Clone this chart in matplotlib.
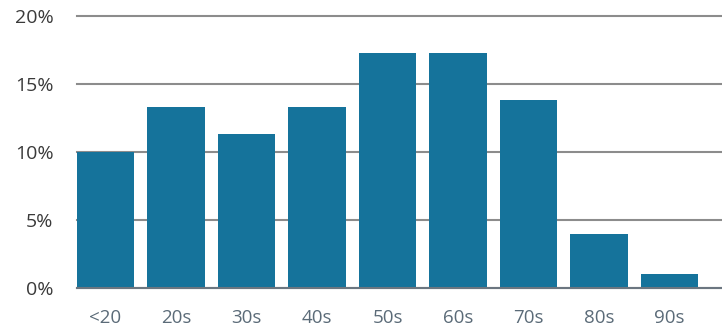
import matplotlib
matplotlib.use("Agg")
import matplotlib.pyplot as plt
from matplotlib.ticker import FuncFormatter

# share of respondents by age group (%)
age_groups = ["<20", "20s", "30s", "40s", "50s", "60s", "70s", "80s", "90s"]
share_pct = [10.0, 13.3, 11.3, 13.3, 17.3, 17.3, 13.8, 4.0, 1.0]
y_ticks = [0, 5, 10, 15, 20]

BAR = "#15739b"
GRID = "#8c8c8c"

plt.rcParams["font.family"] = ["Open Sans", "DejaVu Sans"]

fig = plt.figure(figsize=(7.22, 3.26), dpi=100)
ax = fig.add_axes([77 / 722, 38 / 326, 645 / 722, 272 / 326])

x = range(len(age_groups))
ax.bar(x, share_pct, width=0.81, color=BAR, zorder=3)

ax.set_xlim(-0.405, 8.745)
ax.set_ylim(0, 20)
ax.set_yticks(y_ticks)
ax.yaxis.set_major_formatter(FuncFormatter(lambda v, _: f"{v:.0f}%"))
ax.set_xticks(list(x))
ax.set_xticklabels(age_groups)

ax.grid(axis="y", color=GRID, linewidth=1.5, zorder=0)
for gl in ax.get_ygridlines():
    gl.set_clip_on(False)
for side in ("top", "right", "left"):
    ax.spines[side].set_visible(False)
ax.spines["bottom"].set_color("#6b7680")
ax.spines["bottom"].set_linewidth(1.5)
ax.spines["bottom"].set_zorder(4)

ax.tick_params(axis="y", length=0, pad=17, labelsize=14, labelcolor="#3a3a3a")
ax.tick_params(axis="x", length=0, pad=15, labelsize=13.5, labelcolor="#5b6b78")

fig.savefig("out.png", dpi=100)
